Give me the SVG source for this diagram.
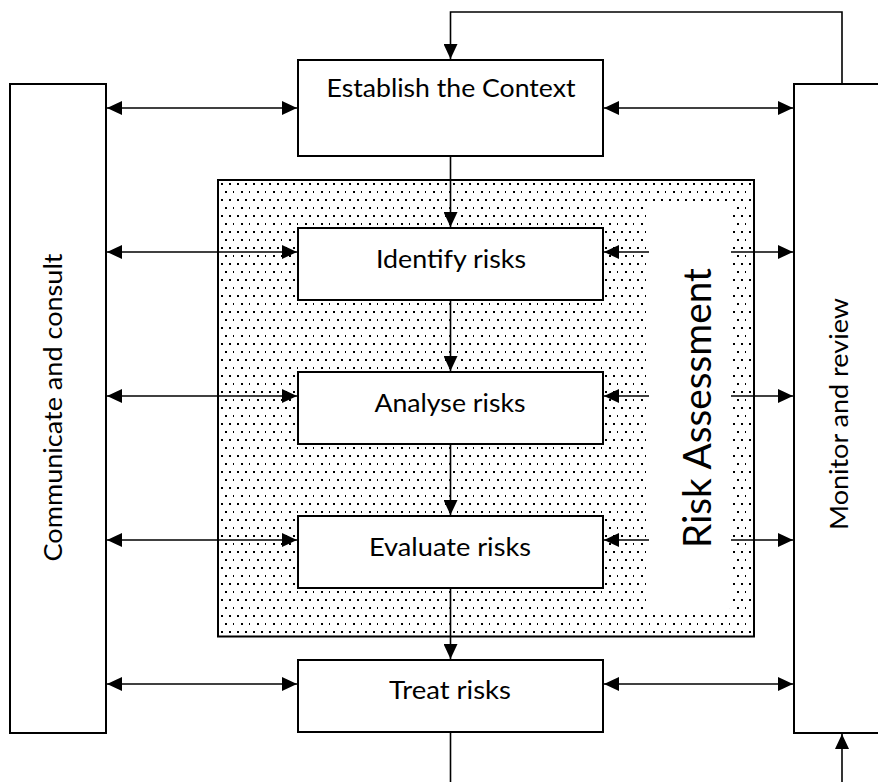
<svg xmlns="http://www.w3.org/2000/svg" width="878" height="782" viewBox="0 0 878 782">
<defs>
<style>
.box{fill:#fff;stroke:#000;stroke-width:2}
.ln{fill:none;stroke:#000;stroke-width:1.6}
.t{font-family:Lato,"Open Sans","Liberation Sans",sans-serif;font-size:25px;fill:#000;text-anchor:middle}
.big{font-size:39px}
</style>
<marker id="ah" viewBox="0 0 15 14" markerWidth="15" markerHeight="14" refX="15" refY="7" orient="auto-start-reverse" markerUnits="userSpaceOnUse">
<path d="M0,0 L15,7 L0,14 z" fill="#000"/>
</marker>
<pattern id="dots" x="218" y="180" width="16" height="16" patternUnits="userSpaceOnUse">
<rect x="3" y="3" width="2" height="2" fill="#000"/>
<rect x="11" y="3" width="2" height="2" fill="#000"/>
<rect x="7" y="11" width="2" height="2" fill="#000"/>
<rect x="15" y="11" width="2" height="2" fill="#000"/>
</pattern>
</defs>
<rect width="878" height="782" fill="#fff"/>

<g id="risk-assessment">
<rect x="218" y="180" width="536" height="456.5" fill="#fff" stroke="#000" stroke-width="2"/>
<rect x="219" y="181" width="534" height="454.5" fill="url(#dots)"/>
<rect x="646" y="201" width="85" height="412" rx="8" fill="#fff"/>
<text class="t big" transform="translate(711,408) rotate(-90)" textLength="280" lengthAdjust="spacingAndGlyphs">Risk Assessment</text>
</g>

<g id="communicate">
<rect class="box" x="10" y="84" width="96" height="649"/>
<text class="t" transform="translate(62,407.5) rotate(-90)" textLength="308" lengthAdjust="spacingAndGlyphs">Communicate and consult</text>
</g>

<g id="monitor">
<rect class="box" x="794" y="84" width="100" height="649"/>
<text class="t" transform="translate(848,414) rotate(-90)" textLength="232" lengthAdjust="spacingAndGlyphs">Monitor and review</text>
</g>

<g id="establish">
<rect class="box" x="298" y="60" width="305" height="96"/>
<text class="t" x="451" y="97" textLength="249" lengthAdjust="spacingAndGlyphs">Establish the Context</text>
</g>

<g id="identify">
<rect class="box" x="298" y="228" width="305" height="72"/>
<text class="t" x="451" y="268" textLength="150" lengthAdjust="spacingAndGlyphs">Identify risks</text>
</g>

<g id="analyse">
<rect class="box" x="298" y="372" width="305" height="72"/>
<text class="t" x="450" y="412" textLength="151" lengthAdjust="spacingAndGlyphs">Analyse risks</text>
</g>

<g id="evaluate">
<rect class="box" x="298" y="516" width="305" height="72"/>
<text class="t" x="450" y="556" textLength="162" lengthAdjust="spacingAndGlyphs">Evaluate risks</text>
</g>

<g id="treat">
<rect class="box" x="298" y="660" width="305" height="72"/>
<text class="t" x="450" y="699" textLength="122" lengthAdjust="spacingAndGlyphs">Treat risks</text>
</g>

<g id="connectors">
<path class="ln" d="M842,84 V12 H450.5 V59" marker-end="url(#ah)"/>
<path class="ln" d="M450.5,156 V227" marker-end="url(#ah)"/>
<path class="ln" d="M450.5,300 V371" marker-end="url(#ah)"/>
<path class="ln" d="M450.5,444 V515" marker-end="url(#ah)"/>
<path class="ln" d="M450.5,588 V659" marker-end="url(#ah)"/>
<path class="ln" d="M450.5,732 V782"/>
<path class="ln" d="M842,782 V734" marker-end="url(#ah)"/>
<path class="ln" d="M107,108 H297" marker-start="url(#ah)" marker-end="url(#ah)"/>
<path class="ln" d="M107,252 H297" marker-start="url(#ah)" marker-end="url(#ah)"/>
<path class="ln" d="M107,396 H297" marker-start="url(#ah)" marker-end="url(#ah)"/>
<path class="ln" d="M107,540 H297" marker-start="url(#ah)" marker-end="url(#ah)"/>
<path class="ln" d="M107,684 H297" marker-start="url(#ah)" marker-end="url(#ah)"/>
<path class="ln" d="M604,108 H793" marker-start="url(#ah)" marker-end="url(#ah)"/>
<path class="ln" d="M604,684 H793" marker-start="url(#ah)" marker-end="url(#ah)"/>
<path class="ln" d="M649,252 H604" marker-end="url(#ah)"/>
<path class="ln" d="M649,396 H604" marker-end="url(#ah)"/>
<path class="ln" d="M649,540 H604" marker-end="url(#ah)"/>
<path class="ln" d="M731,252 H793" marker-end="url(#ah)"/>
<path class="ln" d="M731,396 H793" marker-end="url(#ah)"/>
<path class="ln" d="M731,540 H793" marker-end="url(#ah)"/>
</g>
</svg>
